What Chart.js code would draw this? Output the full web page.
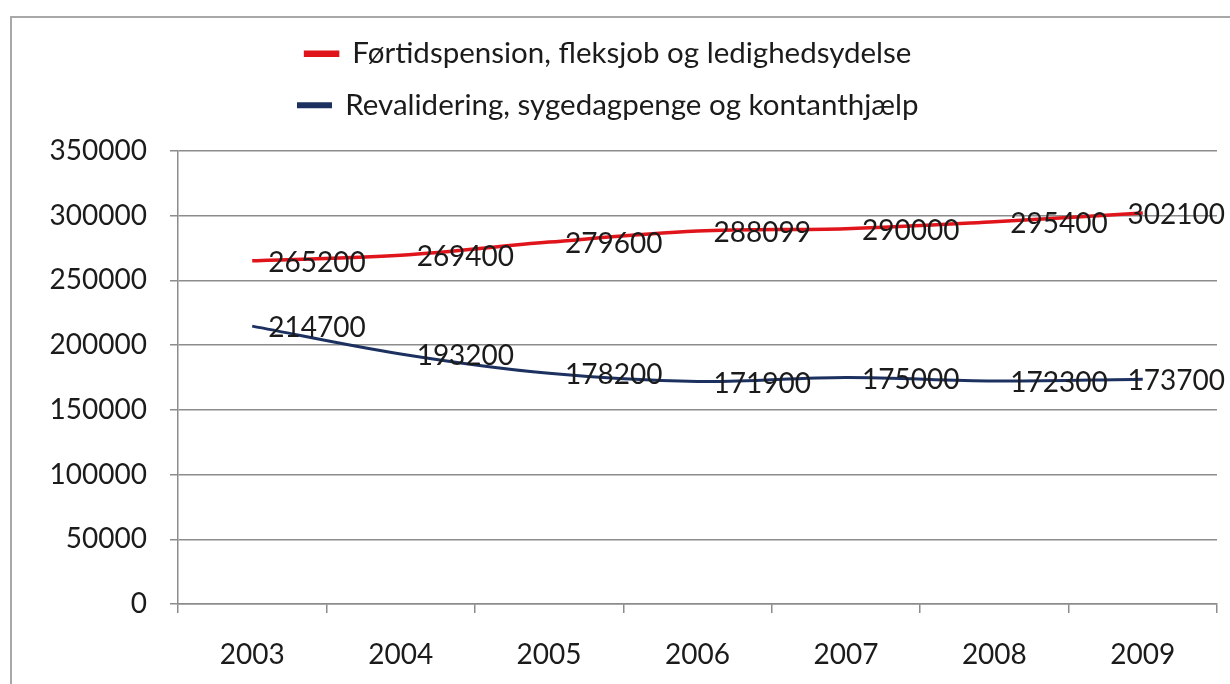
<!DOCTYPE html>
<html>
<head>
<meta charset="utf-8">
<script src="https://cdn.jsdelivr.net/npm/chart.js@4/dist/chart.umd.min.js"></script>
<style>
  html, body { margin: 0; padding: 0; background: #fff; }
  #wrap { position: relative; width: 1230px; height: 684px; overflow: hidden; }
  #frame { position: absolute; left: 10px; top: 16px; width: 1300px; height: 800px;
           border-left: 2px solid #a8a8a8; border-top: 2px solid #a8a8a8; }
  canvas { position: absolute; left: 0; top: 0; }
</style>
</head>
<body>
<div id="wrap">
  <div id="frame"></div>
  <canvas id="chart" width="1230" height="684"></canvas>
</div>
<script>
// Chart data
const years = ['2003', '2004', '2005', '2006', '2007', '2008', '2009'];
const seriesNames = [
  'Førtidspension, fleksjob og ledighedsydelse',
  'Revalidering, sygedagpenge og kontanthjælp'
];
const foertidspension = [265200, 269400, 279600, 288099, 290000, 295400, 302100];
const revalidering = [214700, 193200, 178200, 171900, 175000, 172300, 173700];
const yTicks = [0, 50000, 100000, 150000, 200000, 250000, 300000, 350000];

const FONT = 'Lato, "Open Sans", sans-serif';
const TEXT_COLOR = '#1b1b1b';

// Draw the value next to each point (Excel style "right" labels)
const valueLabels = {
  id: 'valueLabels',
  afterDatasetsDraw(chart) {
    const ctx = chart.ctx;
    ctx.save();
    ctx.font = '28px ' + FONT;
    ctx.fillStyle = TEXT_COLOR;
    ctx.textAlign = 'left';
    ctx.textBaseline = 'middle';
    chart.data.datasets.forEach((ds, i) => {
      const meta = chart.getDatasetMeta(i);
      meta.data.forEach((pt, j) => {
        const text = String(ds.data[j]);
        let x = pt.x + 16;
        // keep the label inside the picture, like Excel does
        const w = ctx.measureText(text).width;
        if (x + w > chart.width - 5) x = chart.width - 5 - w;
        ctx.fillText(text, x, pt.y + 2);
      });
    });
    ctx.restore();
  }
};

// Leave some extra room between the legend and the plot area
const legendGap = {
  id: 'legendGap',
  afterInit(chart) {
    const legend = chart.legend;
    if (!legend) return;
    const origFit = legend.fit;
    legend.fit = function() {
      origFit.call(this);
      this.height += 21;
    };
  }
};

document.addEventListener('DOMContentLoaded', function() {
  const ctx = document.getElementById('chart').getContext('2d');

  new Chart(ctx, {
    type: 'line',
    data: {
      labels: years,
      datasets: [{
        label: seriesNames[0],
        data: foertidspension,
        borderColor: '#e0141b',
        backgroundColor: '#e0141b',
        borderWidth: 3.5,
        pointRadius: 0,
        tension: 0.35,
        fill: false
      }, {
        label: seriesNames[1],
        data: revalidering,
        borderColor: '#1d3160',
        backgroundColor: '#1d3160',
        borderWidth: 3,
        pointRadius: 0,
        tension: 0.35,
        fill: false
      }]
    },
    options: {
      responsive: false,
      animation: false,
      layout: {
        padding: { top: 17, right: 13, bottom: 0, left: 0 }
      },
      plugins: {
        legend: {
          display: true,
          position: 'top',
          labels: {
            boxWidth: 32,
            boxHeight: 3,
            padding: 22,
            color: TEXT_COLOR,
            font: { family: FONT, size: 29.5 }
          }
        },
        tooltip: { enabled: false }
      },
      scales: {
        x: {
          offset: true,
          grid: {
            display: true,
            offset: true,
            drawOnChartArea: false,
            drawTicks: true,
            tickLength: 9,
            color: '#8c8c8c',
            lineWidth: 1.5
          },
          border: { display: true, color: '#8c8c8c', width: 1.5 },
          ticks: {
            color: TEXT_COLOR,
            padding: 25,
            font: { family: FONT, size: 28 }
          },
          afterFit(scale) { scale.height = 80; }
        },
        y: {
          min: 0,
          max: 350000,
          afterBuildTicks(scale) {
            scale.ticks = yTicks.map(v => ({ value: v }));
          },
          grid: {
            color: '#8c8c8c',
            lineWidth: 1.5,
            drawTicks: true,
            tickLength: 8
          },
          border: { display: true, color: '#8c8c8c', width: 1.5 },
          ticks: {
            color: TEXT_COLOR,
            padding: 23,
            font: { family: FONT, size: 28 },
            callback: value => String(value)
          },
          afterFit(scale) { scale.width = 178; }
        }
      }
    },
    plugins: [valueLabels, legendGap]
  });
});
</script>
</body>
</html>
